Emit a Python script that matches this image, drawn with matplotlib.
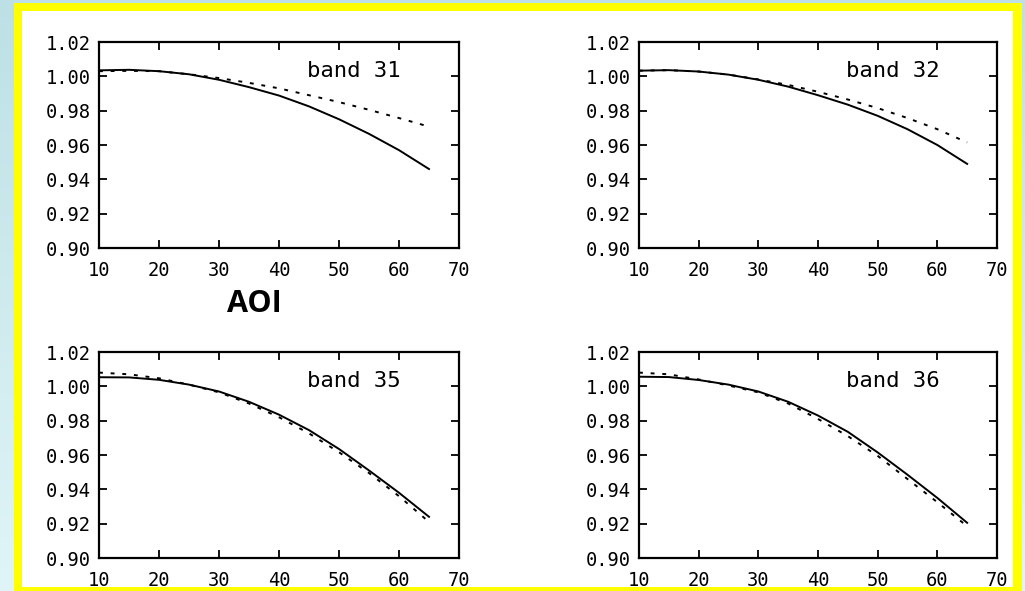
#!/usr/bin/env python3
"""Four-panel AOI response ratio plot (bands 31, 32, 35, 36)."""

import matplotlib

matplotlib.use("Agg")
import numpy as np
from matplotlib import pyplot as plt
from matplotlib.patches import Rectangle

aoi = [10, 15, 20, 25, 30, 35, 40, 45, 50, 55, 60, 65]

band_names = ["band 31", "band 32", "band 35", "band 36"]

solid_31 = [1.0035, 1.0038, 1.0030, 1.0012, 0.9980, 0.9937, 0.9888, 0.9825, 0.9750, 0.9665, 0.9570, 0.9460]
dotted_31 = [1.0030, 1.0032, 1.0030, 1.0012, 0.9990, 0.9962, 0.9930, 0.9890, 0.9850, 0.9805, 0.9757, 0.9707]

solid_32 = [1.0033, 1.0036, 1.0028, 1.0010, 0.9980, 0.9940, 0.9890, 0.9835, 0.9770, 0.9692, 0.9600, 0.9490]
dotted_32 = [1.0033, 1.0036, 1.0028, 1.0010, 0.9982, 0.9950, 0.9910, 0.9865, 0.9815, 0.9757, 0.9692, 0.9615]

solid_35 = [1.0053, 1.0052, 1.0038, 1.0010, 0.9970, 0.9910, 0.9835, 0.9745, 0.9635, 0.9510, 0.9380, 0.9240]
dotted_35 = [1.0080, 1.0070, 1.0047, 1.0010, 0.9965, 0.9900, 0.9820, 0.9726, 0.9616, 0.9495, 0.9360, 0.9210]

solid_36 = [1.0056, 1.0054, 1.0037, 1.0010, 0.9970, 0.9910, 0.9830, 0.9735, 0.9615, 0.9485, 0.9350, 0.9205]
dotted_36 = [1.0080, 1.0070, 1.0040, 1.0005, 0.9965, 0.9900, 0.9810, 0.9710, 0.9595, 0.9460, 0.9325, 0.9185]

x_ticks = [10, 20, 30, 40, 50, 60, 70]
y_ticks = [0.90, 0.92, 0.94, 0.96, 0.98, 1.00, 1.02]

W, H = 1025, 591
MONO = "DejaVu Sans Mono"


def px_rect(x0, y0, x1, y1):
    # pixel box (top-left origin) -> figure fraction rect
    return x0 / W, 1 - y1 / H, (x1 - x0) / W, (y1 - y0) / H


fig = plt.figure(figsize=(W / 100, H / 100), dpi=100)

# light blue gradient background
bg = fig.add_axes([0, 0, 1, 1], zorder=-10)
grad = np.linspace(0, 1, 256).reshape(-1, 1)
top = np.array([0.74, 0.88, 0.90])
bottom = np.array([0.88, 0.96, 0.97])
img = top + (bottom - top) * grad[:, :, None]
bg.imshow(img, aspect="auto", extent=[0, 1, 0, 1])
bg.set_axis_off()

x0, y0, w, h = px_rect(14, 3, 1022, 600)
fig.patches.append(Rectangle((x0, y0), w, h, transform=fig.transFigure,
                             facecolor="#ffff00", edgecolor="none", zorder=-5))
x0, y0, w, h = px_rect(22, 11, 1013, 587)
fig.patches.append(Rectangle((x0, y0), w, h, transform=fig.transFigure,
                             facecolor="white", edgecolor="none", zorder=-4))

panels = [
    ((99, 42, 459, 248), solid_31, dotted_31),
    ((639, 42, 997, 248), solid_32, dotted_32),
    ((99, 352, 459, 558), solid_35, dotted_35),
    ((639, 352, 997, 558), solid_36, dotted_36),
]

for name, (box, solid, dotted) in zip(band_names, panels):
    ax = fig.add_axes(px_rect(*box))
    ax.patch.set_alpha(0)
    ax.plot(aoi, solid, color="black", lw=1.4)
    ax.plot(aoi, dotted, color="black", lw=1.4, linestyle=(0, (2, 4)))
    ax.set_xlim(10, 70)
    ax.set_ylim(0.90, 1.02)
    ax.set_xticks(x_ticks)
    ax.set_yticks(y_ticks)
    ax.set_xticklabels([str(v) for v in x_ticks], family=MONO)
    ax.set_yticklabels([f"{v:.2f}" for v in y_ticks], family=MONO)
    ax.tick_params(direction="in", length=6, width=1.3, top=True, right=True,
                   labelsize=13.5, colors="black")
    ax.tick_params(axis="x", pad=9)
    ax.tick_params(axis="y", pad=6)
    for spine in ax.spines.values():
        spine.set_linewidth(1.6)
    ax.text(0.578, 0.832, name, transform=ax.transAxes, fontsize=16,
            family=MONO, ha="left", va="baseline")

fig.text(254 / W, 1 - 304 / H, "AOI", fontsize=22, fontweight="bold",
         family="Open Sans", ha="center", va="center")

fig.savefig("out.png", dpi=100)
